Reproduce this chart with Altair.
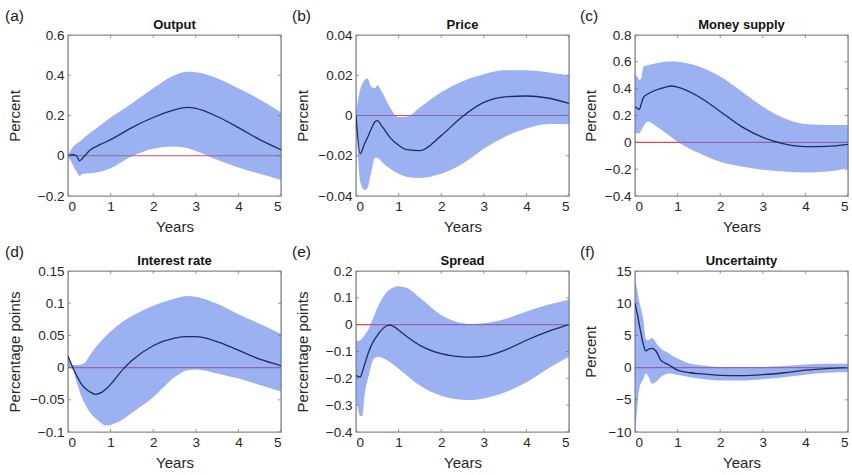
import altair as alt
import pandas as pd

FONT = "Liberation Sans, Arial, Helvetica, sans-serif"
BAND = "#587de9"
NAVY = "#1f2b5c"
RED = "#e5484d"
FRAME = "#8a8a8a"
TEXT = "#262626"

W, H = 213, 161

YEAR_TICKS = [0, 1, 2, 3, 4, 5]
ZERO_LINE = [0]

# (a) Output
OUT_X = [0, 0.1, 0.2, 0.27, 0.35, 0.5, 0.75, 1, 1.5, 2, 2.5, 2.8, 3, 3.5, 4, 4.5, 5]
OUT_MEAN = [0, 0.005, 0.0, -0.025, -0.01, 0.025, 0.055, 0.08, 0.14, 0.19, 0.228, 0.24, 0.235, 0.195, 0.14, 0.08, 0.03]
OUT_LO = [0, -0.04, -0.08, -0.10, -0.09, -0.087, -0.08, -0.062, -0.003, 0.035, 0.046, 0.038, 0.024, -0.02, -0.058, -0.09, -0.12]
OUT_HI = [0, 0.04, 0.06, 0.07, 0.085, 0.11, 0.15, 0.19, 0.26, 0.335, 0.40, 0.417, 0.415, 0.385, 0.335, 0.28, 0.215]
OUT_YTICKS = [-0.2, 0, 0.2, 0.4, 0.6]

# (b) Price
PRI_X = [0, 0.1, 0.2, 0.27, 0.35, 0.45, 0.5, 0.6, 0.8, 1, 1.2, 1.5, 2, 2.5, 3, 3.5, 4, 4.5, 5]
PRI_MEAN = [0, -0.019, -0.014, -0.011, -0.007, -0.003, -0.0025, -0.005, -0.011, -0.0148, -0.017, -0.0175, -0.010, -0.0005, 0.0065, 0.0093, 0.0097, 0.0087, 0.006]
PRI_LO = [-0.001, -0.033, -0.037, -0.036, -0.029, -0.021, -0.021, -0.023, -0.0265, -0.029, -0.0305, -0.031, -0.029, -0.024, -0.0165, -0.0105, -0.0065, -0.0042, -0.0043]
PRI_HI = [0.001, 0.013, 0.0175, 0.0185, 0.0145, 0.0135, 0.015, 0.012, 0.004, -0.0008, -0.0005, 0.004, 0.0115, 0.017, 0.0205, 0.0225, 0.0225, 0.0215, 0.02]
PRI_YTICKS = [-0.04, -0.02, 0, 0.02, 0.04]

# (c) Money supply
MON_X = [0, 0.05, 0.1, 0.15, 0.2, 0.3, 0.5, 0.7, 0.85, 1, 1.5, 2, 2.5, 3, 3.5, 4, 4.5, 5]
MON_MEAN = [0.265, 0.255, 0.245, 0.29, 0.335, 0.36, 0.39, 0.41, 0.42, 0.412, 0.34, 0.23, 0.117, 0.037, -0.012, -0.032, -0.03, -0.015]
MON_LO = [0.068, 0.068, 0.068, 0.09, 0.12, 0.155, 0.12, 0.075, 0.04, 0.005, -0.08, -0.145, -0.18, -0.205, -0.218, -0.225, -0.218, -0.193]
MON_HI = [0.50, 0.49, 0.465, 0.48, 0.565, 0.575, 0.59, 0.60, 0.602, 0.60, 0.565, 0.49, 0.38, 0.265, 0.18, 0.137, 0.13, 0.13]
MON_YTICKS = [-0.4, -0.2, 0, 0.2, 0.4, 0.6, 0.8]

# (d) Interest rate
INT_X = [0, 0.1, 0.2, 0.3, 0.4, 0.5, 0.65, 0.8, 0.9, 1, 1.3, 1.5, 2, 2.5, 2.8, 3, 3.5, 4, 4.5, 5]
INT_MEAN = [0.018, 0.002, -0.012, -0.024, -0.032, -0.037, -0.0415, -0.038, -0.033, -0.026, -0.002, 0.011, 0.034, 0.0457, 0.048, 0.048, 0.0405, 0.027, 0.013, 0.003]
INT_LO = [0.0, -0.002, -0.022, -0.042, -0.057, -0.068, -0.079, -0.087, -0.09, -0.089, -0.08, -0.07, -0.046, -0.015, -0.004, -0.003, -0.009, -0.017, -0.027, -0.037]
INT_HI = [0.02, 0.004, 0.004, 0.005, 0.008, 0.018, 0.032, 0.043, 0.05, 0.056, 0.072, 0.08, 0.096, 0.107, 0.111, 0.11, 0.099, 0.083, 0.068, 0.052]
INT_YTICKS = [-0.1, -0.05, 0, 0.05, 0.1, 0.15]

# (e) Spread
SPR_X = [0, 0.1, 0.15, 0.2, 0.3, 0.4, 0.5, 0.7, 0.8, 0.9, 1, 1.2, 1.5, 2, 2.5, 2.7, 3, 3.5, 4, 4.5, 5]
SPR_MEAN = [-0.19, -0.195, -0.175, -0.15, -0.10, -0.065, -0.04, -0.006, -0.002, -0.008, -0.02, -0.045, -0.077, -0.108, -0.12, -0.121, -0.118, -0.095, -0.058, -0.026, 0.0]
SPR_LO = [-0.265, -0.34, -0.34, -0.265, -0.19, -0.133, -0.12, -0.13, -0.14, -0.152, -0.164, -0.19, -0.227, -0.265, -0.28, -0.281, -0.275, -0.252, -0.215, -0.164, -0.12]
SPR_HI = [-0.062, -0.058, -0.05, -0.039, -0.014, 0.024, 0.062, 0.118, 0.132, 0.14, 0.143, 0.137, 0.1, 0.036, 0.005, 0.002, 0.005, 0.021, 0.049, 0.074, 0.093]
SPR_YTICKS = [-0.4, -0.3, -0.2, -0.1, 0, 0.1, 0.2]

# (f) Uncertainty
UNC_X = [0, 0.05, 0.1, 0.2, 0.25, 0.3, 0.4, 0.5, 0.6, 0.8, 1, 1.3, 1.5, 2, 2.5, 3, 3.5, 4, 4.5, 5]
UNC_MEAN = [10.0, 8.5, 6.7, 3.5, 2.6, 2.8, 3.0, 2.5, 1.2, 0.4, -0.4, -0.8, -0.95, -1.2, -1.25, -1.1, -0.8, -0.4, -0.15, 0.0]
UNC_LO = [-10, -6.5, -3.3, -1.7, -0.9, -1.2, -2.5, -2.2, -1.5, -0.9, -1.1, -1.5, -1.7, -2.0, -2.0, -1.8, -1.5, -1.1, -0.8, -0.7]
UNC_HI = [14, 12, 10.3, 7.2, 4.5, 4.2, 4.6, 3.8, 3.0, 2.2, 1.4, 0.6, 0.4, 0.1, 0.05, 0.1, 0.25, 0.5, 0.6, 0.6]
UNC_YTICKS = [-10, -5, 0, 5, 10, 15]

PANELS = [
    [
        ("(a)", "Output", "Percent", OUT_X, OUT_MEAN, OUT_LO, OUT_HI, OUT_YTICKS),
        ("(b)", "Price", "Percent", PRI_X, PRI_MEAN, PRI_LO, PRI_HI, PRI_YTICKS),
        ("(c)", "Money supply", "Percent", MON_X, MON_MEAN, MON_LO, MON_HI, MON_YTICKS),
    ],
    [
        ("(d)", "Interest rate", "Percentage points", INT_X, INT_MEAN, INT_LO, INT_HI, INT_YTICKS),
        ("(e)", "Spread", "Percentage points", SPR_X, SPR_MEAN, SPR_LO, SPR_HI, SPR_YTICKS),
        ("(f)", "Uncertainty", "Percent", UNC_X, UNC_MEAN, UNC_LO, UNC_HI, UNC_YTICKS),
    ],
]

# per-column layout of the y axis and the panel tag
COL_EXTENT = [38, 38, 30]
COL_TITLE_PAD = [8, 8, 7]
COL_TAG_X = [-63, -64, -55]

LABEL_SIZE = 13.5
TITLE_SIZE = 15
# plain shortest-form tick labels (0.15 stays 0.15)
TICK_LABEL = "format(datum.value, '~g')"


def panel(spec, col):
    tag, title, ylabel, xs, mean, lo, hi, yticks = spec
    df = pd.DataFrame({"t": xs, "mean": mean, "lo": lo, "hi": hi})

    xscale = alt.Scale(domain=[0, 5], nice=False, zero=False)
    yscale = alt.Scale(domain=[yticks[0], yticks[-1]], nice=False, zero=False)

    xaxis = alt.Axis(
        values=YEAR_TICKS, title="Years", labelExpr=TICK_LABEL, ticks=False,
        domain=False, grid=False, labelPadding=3, titlePadding=7,
        labelFontSize=LABEL_SIZE, titleFontSize=TITLE_SIZE, labelFont=FONT,
        titleFont=FONT, titleFontWeight="normal", labelColor=TEXT, titleColor=TEXT,
    )
    yaxis = alt.Axis(
        values=yticks, title=ylabel, labelExpr=TICK_LABEL, ticks=False,
        domain=False, grid=False, labelPadding=4, titlePadding=COL_TITLE_PAD[col],
        minExtent=COL_EXTENT[col], maxExtent=COL_EXTENT[col],
        labelFontSize=LABEL_SIZE, titleFontSize=TITLE_SIZE, labelFont=FONT,
        titleFont=FONT, titleFontWeight="normal", labelColor=TEXT, titleColor=TEXT,
    )

    X = lambda f: alt.X(f, type="quantitative", scale=xscale, axis=xaxis)
    Y = lambda f: alt.Y(f, type="quantitative", scale=yscale, axis=yaxis)

    zero = alt.Chart(pd.DataFrame({"z": ZERO_LINE})).mark_rule(
        color=RED, strokeWidth=1.2
    ).encode(y=Y("z"))

    band = alt.Chart(df).mark_area(
        color=BAND, opacity=0.6, interpolate="monotone", clip=True
    ).encode(x=X("t"), y=Y("lo"), y2="hi")

    line = alt.Chart(df).mark_line(
        color=NAVY, strokeWidth=1.3, interpolate="monotone", clip=True
    ).encode(x=X("t"), y=Y("mean"))

    xt = pd.DataFrame({"t": YEAR_TICKS})
    yt = pd.DataFrame({"v": yticks})
    tick_style = dict(color="#6e6e6e", size=6, thickness=1, clip=True)
    xt_bot = alt.Chart(xt).mark_tick(orient="vertical", **tick_style).encode(
        x=X("t"), y=alt.value(H))
    xt_top = alt.Chart(xt).mark_tick(orient="vertical", **tick_style).encode(
        x=X("t"), y=alt.value(0))
    yt_left = alt.Chart(yt).mark_tick(orient="horizontal", **tick_style).encode(
        y=Y("v"), x=alt.value(0))
    yt_right = alt.Chart(yt).mark_tick(orient="horizontal", **tick_style).encode(
        y=Y("v"), x=alt.value(W))

    tag_txt = alt.Chart(pd.DataFrame({"s": [tag]})).mark_text(
        align="left", baseline="middle", fontSize=15.5, font=FONT, color="#1a1a1a"
    ).encode(x=alt.value(COL_TAG_X[col]), y=alt.value(-19), text="s:N")

    title_txt = alt.Chart(pd.DataFrame({"s": [title]})).mark_text(
        align="center", baseline="middle", fontSize=13, fontWeight="bold",
        font=FONT, color="#111111"
    ).encode(x=alt.value(W / 2), y=alt.value(-10), text="s:N")

    return alt.layer(
        zero, band, line, xt_bot, xt_top, yt_left, yt_right, tag_txt, title_txt
    ).properties(width=W, height=H)


rows = [
    alt.hconcat(*[panel(spec, c) for c, spec in enumerate(row)], spacing=8)
    for row in PANELS
]

chart = alt.vconcat(*rows, spacing=8).properties(
    padding={"left": 4, "top": 8, "right": 2, "bottom": 2},
    background="white",
).configure_view(stroke=FRAME, strokeWidth=1.4)

chart.save("out.html", embed_options={"renderer": "svg", "actions": False})
